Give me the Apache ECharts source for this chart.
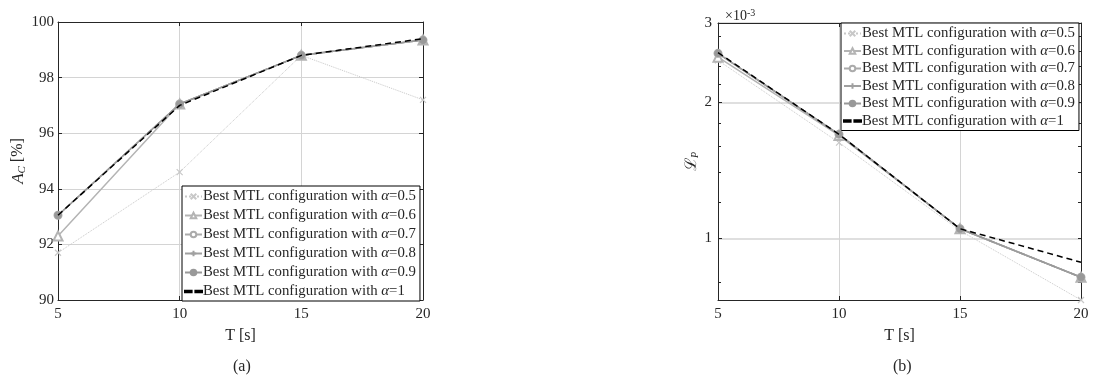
<!DOCTYPE html>
<html><head><meta charset="utf-8">
<script src="https://cdn.jsdelivr.net/npm/echarts@6/dist/echarts.min.js"></script>
<style>html,body{margin:0;padding:0;background:#fff}#c{width:1094px;height:383px}</style>
</head><body><div id="c"></div>
<script>
// ---- data ----
const T = [5, 10, 15, 20];
const alphas = ['0.5', '0.6', '0.7', '0.8', '0.9', '1'];
// (a) accuracy A_C [%]
const acc05 = [91.7, 94.6, 98.8, 97.2];
const acc06 = [92.3, 97.05, 98.8, 99.35];
const acc07 = [93.05, 97.05, 98.8, 99.35];
const acc08 = [93.05, 97.05, 98.8, 99.35];
const acc09 = [93.05, 97.05, 98.8, 99.35];
const acc10 = [93.05, 97.0, 98.8, 99.4];
// (b) loss L_P [x10^-3]
const loss05 = [2.48, 1.63, 1.04, 0.73];
const loss06 = [2.52, 1.69, 1.05, 0.82];
const loss07 = [2.57, 1.70, 1.05, 0.82];
const loss08 = [2.57, 1.70, 1.05, 0.82];
const loss09 = [2.57, 1.70, 1.05, 0.82];
const loss10 = [2.58, 1.70, 1.05, 0.885];
const xTicks = [5, 10, 15, 20];
const accTicks = [90, 92, 94, 96, 98, 100];
const lossMajor = [1, 2, 3];
const lossMinor = [0.8, 1.2, 1.4, 1.6, 1.8, 2.2, 2.4, 2.6, 2.8];

// ---- styles ----
const FONT = 'Liberation Serif';
const TXT = '#262626';
const AX = '#262626';
const GRID = '#d4d4d4';
const names = alphas.map(a => 'Best MTL configuration with α=' + a);
const styles = [
  {color: '#c8c8c8', type: 'dotted', width: 1, symbol: 'path://M0,0L10,10M10,0L0,10', size: 6},
  {color: '#b4b4b4', type: 'solid', width: 1.5, symbol: 'emptyTriangle', size: 9},
  {color: '#ababab', type: 'solid', width: 1.5, symbol: 'emptyCircle', size: 7},
  {color: '#a0a0a0', type: 'solid', width: 1.5, symbol: 'path://M5,0L5,10M0,5L10,5', size: 8},
  {color: '#999999', type: [6, 2, 1, 2], width: 1.5, symbol: 'circle', size: 6},
  {color: '#000000', type: [6, 4], width: 1.5, symbol: 'none', size: 0}
];
const accSets = [acc05, acc06, acc07, acc08, acc09, acc10];
const lossSets = [loss05, loss06, loss07, loss08, loss09, loss10];

function mkSeries(i, vals, xi, yi) {
  const s = styles[i];
  return {
    type: 'line', name: names[i], xAxisIndex: xi, yAxisIndex: yi,
    data: T.map((t, k) => [t, vals[k]]),
    symbol: s.symbol, symbolSize: s.size, showSymbol: s.symbol !== 'none',
    lineStyle: {color: s.color, type: s.type, width: s.width},
    itemStyle: {color: s.color, borderColor: s.color, borderWidth: 1.2},
    emphasis: {disabled: true}, animation: false, z: 2 + i
  };
}

const labelStyle = {color: TXT, fontFamily: FONT, fontSize: 15};
function xAxisPair(gi) {
  return [
    {type: 'value', gridIndex: gi, min: 5, max: 20, interval: 5, position: 'bottom',
     axisLine: {show: true, lineStyle: {color: AX, width: 1}},
     axisTick: {show: true, inside: true, length: 4, lineStyle: {color: AX}},
     axisLabel: Object.assign({margin: 7}, labelStyle),
     splitLine: {show: true, lineStyle: {color: GRID, width: 1}},
     name: 'T [s]', nameLocation: 'middle', nameGap: 28,
     nameTextStyle: {color: TXT, fontFamily: FONT, fontSize: 16}},
    {type: 'value', gridIndex: gi, min: 5, max: 20, interval: 5, position: 'top',
     axisLine: {show: true, lineStyle: {color: AX, width: 1}},
     axisTick: {show: true, inside: true, length: 4, lineStyle: {color: AX}},
     axisLabel: {show: false}, splitLine: {show: false}}
  ];
}

const legendData = names.map((n, i) => i === 5
  ? {name: n, icon: 'path://M0,0h7v1.4h-7zM11,0h7v1.4h-7z', itemStyle: {color: '#000'}}
  : n);
function mkLegend(left, top, gap) {
  return {left: left, top: top, orient: 'vertical', itemGap: gap, itemWidth: 17, itemHeight: 7,
    padding: [3, 4, 2, 2], backgroundColor: '#fff', borderColor: '#000', borderWidth: 1, borderRadius: 0,
    data: legendData, selectedMode: false,
    formatter: n => n.replace('α', '{a|α}'),
    textStyle: {color: TXT, fontFamily: FONT, fontSize: 14.8, lineHeight: 15, padding: [0, 0, 0, -4],
      rich: {a: {fontFamily: FONT, fontStyle: 'italic', fontSize: 14.8, lineHeight: 15, color: TXT}}}};
}

const option = {
  backgroundColor: '#fff',
  animation: false,
  grid: [
    {left: 58, right: 671, top: 22, bottom: 83},
    {left: 718, right: 13, top: 23, bottom: 83}
  ],
  title: [
    {text: '(a)', left: 228, top: 354, textStyle: {color: TXT, fontFamily: FONT, fontSize: 16, fontWeight: 'normal'}},
    {text: '(b)', left: 888, top: 354, textStyle: {color: TXT, fontFamily: FONT, fontSize: 16, fontWeight: 'normal'}},
    {text: '×10{s|-3}', left: 720, top: 3,
     textStyle: {color: TXT, fontFamily: FONT, fontSize: 14, fontWeight: 'normal',
       rich: {s: {fontFamily: FONT, fontSize: 10, verticalAlign: 'top', color: TXT, padding: [0, 0, 6, 0]}}}}
  ],
  xAxis: [].concat(xAxisPair(0), xAxisPair(1)),
  yAxis: [
    {type: 'value', gridIndex: 0, min: 90, max: 100, interval: 2, position: 'left',
     axisLine: {show: true, lineStyle: {color: AX}},
     axisTick: {show: true, inside: true, length: 4, lineStyle: {color: AX}},
     axisLabel: Object.assign({margin: 4}, labelStyle),
     splitLine: {show: true, lineStyle: {color: GRID, width: 1}},
     name: '{i|A}{s|C}{n| [%]}', nameLocation: 'middle', nameGap: 30,
     nameTextStyle: {color: TXT, fontFamily: FONT, fontSize: 16,
       rich: {i: {fontFamily: FONT, fontStyle: 'italic', fontSize: 17, color: TXT},
              s: {fontFamily: FONT, fontStyle: 'italic', fontSize: 11, color: TXT, padding: [8, 0, 0, 0]},
              n: {fontFamily: FONT, fontSize: 16, color: TXT}}}},
    {type: 'value', gridIndex: 0, min: 90, max: 100, interval: 2, position: 'right',
     axisLine: {show: true, lineStyle: {color: AX}},
     axisTick: {show: true, inside: true, length: 4, lineStyle: {color: AX}},
     axisLabel: {show: false}, splitLine: {show: false}},
    {type: 'log', gridIndex: 1, min: 0.73, max: 3, logBase: 10, position: 'left',
     axisLine: {show: true, lineStyle: {color: AX}},
     axisTick: {show: true, inside: true, length: 4, lineStyle: {color: AX}, customValues: lossMajor},
     axisLabel: Object.assign({margin: 6, customValues: lossMajor, formatter: v => String(Math.round(v))}, labelStyle),
     splitLine: {show: true, lineStyle: {color: GRID, width: 1.5}},
     name: '{i|ℒ}{s|P}', nameLocation: 'middle', nameGap: 16,
     nameTextStyle: {color: TXT, fontFamily: FONT, fontSize: 16,
       rich: {i: {fontFamily: 'DejaVu Serif', fontSize: 16, color: TXT},
              s: {fontFamily: FONT, fontStyle: 'italic', fontSize: 10, color: TXT, padding: [8, 0, 0, 0]}}}},
    {type: 'log', gridIndex: 1, min: 0.73, max: 3, logBase: 10, position: 'left',
     axisLine: {show: false},
     axisTick: {show: true, inside: true, length: 3, lineStyle: {color: AX}, customValues: lossMinor},
     axisLabel: {show: false}, splitLine: {show: false}},
    {type: 'log', gridIndex: 1, min: 0.73, max: 3, logBase: 10, position: 'right',
     axisLine: {show: true, lineStyle: {color: AX}},
     axisTick: {show: true, inside: true, length: 3, lineStyle: {color: AX}, customValues: lossMinor.concat(lossMajor)},
     axisLabel: {show: false}, splitLine: {show: false}}
  ],
  legend: [mkLegend(182, 186, 4), mkLegend(841, 23, 2.5)],
  series: [].concat(
    accSets.map((v, i) => mkSeries(i, v, 0, 0)),
    lossSets.map((v, i) => mkSeries(i, v, 2, 2))
  )
};
const chart = echarts.init(document.getElementById('c'), null, {renderer: 'canvas'});
chart.setOption(option);
</script></body></html>
